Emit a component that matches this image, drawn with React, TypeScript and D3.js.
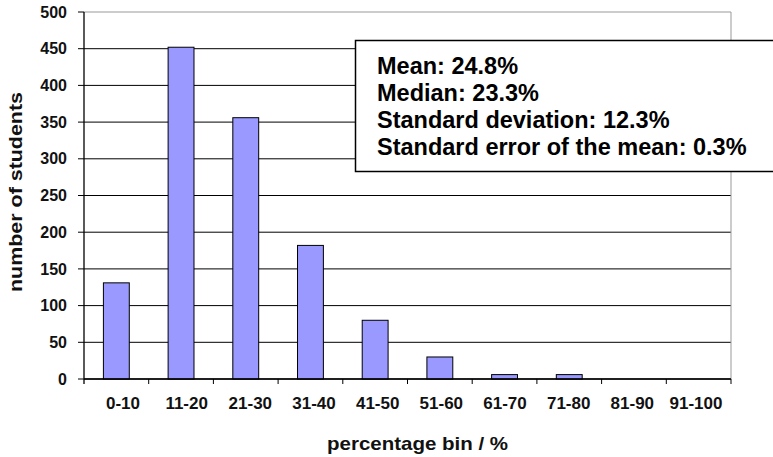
import React from "react";
import * as d3 from "d3";

const categories = ["0-10", "11-20", "21-30", "31-40", "41-50", "51-60", "61-70", "71-80", "81-90", "91-100"];
const counts = [131, 452, 356, 182, 80, 30, 6, 6, 0, 0];
const yTicks = [0, 50, 100, 150, 200, 250, 300, 350, 400, 450, 500];
const statLines = ["Mean: 24.8%", "Median: 23.3%", "Standard deviation: 12.3%", "Standard error of the mean: 0.3%"];

export default function App() {
  const W = 773, H = 457;
  const left = 84, right = 731, top = 12, bottom = 379;
  const x = d3.scaleBand<string>().domain(categories).range([left, right]).paddingInner(0.6).paddingOuter(0.3);
  const xb = d3.scaleBand<string>().domain(categories).range([left, right]);
  const xl = d3.scalePoint<string>().domain(categories).range([123, 696]);
  const y = d3.scaleLinear().domain([0, 500]).range([bottom, top]);
  const font = "Arial, 'Liberation Sans', sans-serif";
  return (
    <svg width={W} height={H} style={{ position: "absolute", left: 0, top: 0, background: "#fff" }} fontFamily={font}>
      {yTicks.map((t) => (
        <g key={t}>
          <line x1={left - 6} x2={t === 500 ? left : right} y1={y(t)} y2={y(t)} stroke="#000" strokeWidth={1} />
          <text x={67} y={y(t)} dy="0.35em" textAnchor="end" fontSize={16} fontWeight="bold" fill="#111">{t}</text>
        </g>
      ))}
      <line x1={left} x2={right} y1={top} y2={top} stroke="#999" strokeWidth={1} />
      <line x1={right} x2={right} y1={top} y2={bottom} stroke="#999" strokeWidth={1} />
      {counts.map((c, i) => (
        <rect key={i} x={x(categories[i])!} width={x.bandwidth()} y={y(c)} height={bottom - y(c)} fill="#9999FF" stroke="#000" strokeWidth={1} />
      ))}
      <line x1={left} x2={left} y1={top} y2={bottom + 5} stroke="#000" strokeWidth={1.3} />
      <line x1={left} x2={right} y1={bottom} y2={bottom} stroke="#000" strokeWidth={1.3} />
      {categories.map((c) => (
        <g key={c}>
          <line x1={xb(c)! + xb.bandwidth()} x2={xb(c)! + xb.bandwidth()} y1={bottom} y2={bottom + 5} stroke="#000" />
          <text x={xl(c)!} y={409} textAnchor="middle" fontSize={17} fontWeight="bold" fill="#111">{c}</text>
        </g>
      ))}
      <text x={417.5} y={450} textAnchor="middle" fontSize={18.5} fontWeight="bold" fill="#111" textLength={181} lengthAdjust="spacingAndGlyphs">percentage bin / %</text>
      <text transform={`translate(22,192) rotate(-90)`} textAnchor="middle" fontSize={18} fontWeight="bold" fill="#111" textLength={200} lengthAdjust="spacingAndGlyphs">number of students</text>
      <rect x={355.5} y={40.5} width={430} height={131} fill="#fff" stroke="#000" strokeWidth={1.5} />
      {statLines.map((s, i) => (
        <text key={i} x={377} y={74 + i * 27} fontSize={23.5} fontWeight="bold" fill="#000">{s}</text>
      ))}
    </svg>
  );
}
